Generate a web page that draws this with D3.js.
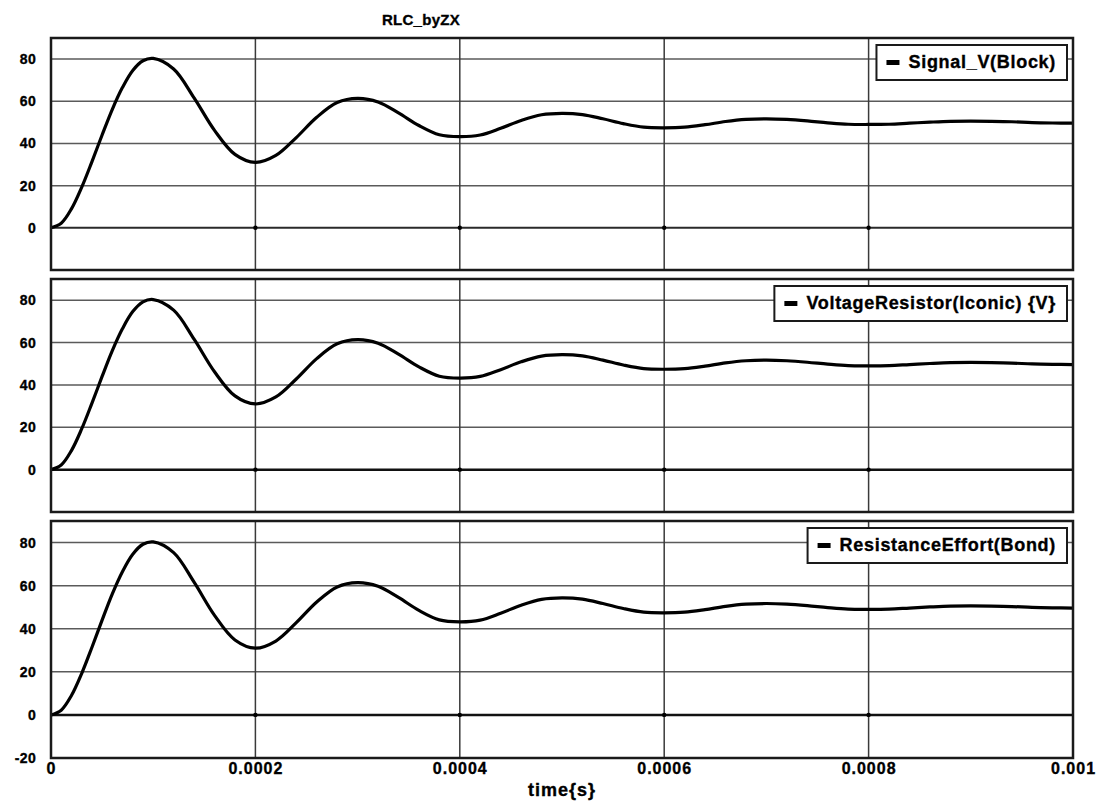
<!DOCTYPE html>
<html>
<head>
<meta charset="utf-8">
<script src="https://cdn.jsdelivr.net/npm/d3@7/dist/d3.min.js"></script>
<style>
  body { margin: 0; background: #fff; }
  svg { display: block; font-family: "Liberation Sans", Arial, sans-serif; }
</style>
</head>
<body>
<div id="chart"></div>
<script>
// ---- data ----
const chartTitle = 'RLC_byZX';
const xLabel = 'time{s}';

// sample times in microseconds (denser on the first rise)
const timeUs = [0, 10, 20, 30, 40, 50, 60, 70, 80, 90, 100, 120, 140, 160, 180, 200, 220,
  240, 260, 280, 300, 320, 340, 360, 380, 400, 420, 440, 460, 480, 500, 520, 540, 560, 580,
  600, 620, 640, 660, 680, 700, 720, 740, 760, 780, 800, 820, 840, 860, 880, 900, 920, 940,
  960, 980, 1000];

const signalV = [0, 2.2, 9.0, 19.2, 31.3, 44.0, 56.2, 66.6, 74.6, 79.2, 80.3, 75.3, 61.6,
  46.2, 34.8, 31.0, 34.3, 42.8, 52.4, 59.4, 61.4, 59.7, 54.5, 48.5, 44.1, 43.2, 44.0, 47.2,
  50.9, 53.6, 54.3, 53.7, 51.7, 49.4, 47.7, 47.4, 47.7, 48.9, 50.4, 51.4, 51.7, 51.4, 50.7,
  49.8, 49.1, 49.0, 49.1, 49.6, 50.1, 50.5, 50.6, 50.5, 50.3, 49.9, 49.7, 49.6];
const voltageResistor = [0, 2.2, 9.0, 19.2, 31.3, 44.0, 56.2, 66.6, 74.6, 79.2, 80.3, 75.3, 61.6,
  46.2, 34.8, 31.0, 34.3, 42.8, 52.4, 59.4, 61.4, 59.7, 54.5, 48.5, 44.1, 43.2, 44.0, 47.2,
  50.9, 53.6, 54.3, 53.7, 51.7, 49.4, 47.7, 47.4, 47.7, 48.9, 50.4, 51.4, 51.7, 51.4, 50.7,
  49.8, 49.1, 49.0, 49.1, 49.6, 50.1, 50.5, 50.6, 50.5, 50.3, 49.9, 49.7, 49.6];
const resistanceEffort = [0, 2.2, 9.0, 19.2, 31.3, 44.0, 56.2, 66.6, 74.6, 79.2, 80.3, 75.3, 61.6,
  46.2, 34.8, 31.0, 34.3, 42.8, 52.4, 59.4, 61.4, 59.7, 54.5, 48.5, 44.1, 43.2, 44.0, 47.2,
  50.9, 53.6, 54.3, 53.7, 51.7, 49.4, 47.7, 47.4, 47.7, 48.9, 50.4, 51.4, 51.7, 51.4, 50.7,
  49.8, 49.1, 49.0, 49.1, 49.6, 50.1, 50.5, 50.6, 50.5, 50.3, 49.9, 49.7, 49.6];

const seriesNames = ['Signal_V(Block)', 'VoltageResistor(Iconic) {V}', 'ResistanceEffort(Bond)'];

const xTicks = [0, 0.0002, 0.0004, 0.0006, 0.0008, 0.001];
const xTickLabels = ['0', '0.0002', '0.0004', '0.0006', '0.0008', '0.001'];
const yTicksUpper = [0, 20, 40, 60, 80];
const yTicksLower = [-20, 0, 20, 40, 60, 80];

// ---- layout ----
const W = 1098, H = 802;
const left = 51, right = 1073;
const panelBoxes = [
  { top: 38, bottom: 270 },
  { top: 279, bottom: 512 },
  { top: 521, bottom: 758 }
];
const FONT = '"Liberation Sans", Arial, sans-serif';

const svg = d3.select('#chart').append('svg')
  .attr('width', W)
  .attr('height', H);

svg.append('rect').attr('width', W).attr('height', H).attr('fill', '#fff');

const x = d3.scaleLinear().domain([0, 0.001]).range([left, right]);

const panels = [
  { values: signalV, name: seriesNames[0], yTicks: yTicksUpper, zeroColor: '#2a2a2a', zeroWidth: 2 },
  { values: voltageResistor, name: seriesNames[1], yTicks: yTicksUpper, zeroColor: '#111', zeroWidth: 2.5 },
  { values: resistanceEffort, name: seriesNames[2], yTicks: yTicksLower, zeroColor: '#111', zeroWidth: 2.5 }
];

// heavy, slightly smeared text like the scanned original
function boldText(sel, size, spacing) {
  sel.attr('fill', '#000')
    .attr('stroke', '#000')
    .attr('stroke-width', 0.35)
    .style('font-size', size + 'px')
    .style('font-weight', 'bold')
    .style('letter-spacing', (spacing || 0) + 'px')
    .style('font-family', FONT);
}

panels.forEach((p, i) => {
  const box = panelBoxes[i];
  const y = d3.scaleLinear().domain([-20, 90]).range([box.bottom, box.top]);
  const g = svg.append('g').attr('class', 'panel');

  // horizontal grid
  g.append('g').selectAll('line')
    .data([20, 40, 60, 80])
    .join('line')
    .attr('x1', left).attr('x2', right)
    .attr('y1', d => y(d)).attr('y2', d => y(d))
    .attr('stroke', '#5a5a5a')
    .attr('stroke-width', 1.5);

  // vertical grid
  g.append('g').selectAll('line')
    .data(xTicks.slice(1, -1))
    .join('line')
    .attr('x1', d => x(d)).attr('x2', d => x(d))
    .attr('y1', box.top).attr('y2', box.bottom)
    .attr('stroke', '#3a3a3a')
    .attr('stroke-width', 1.5);

  // zero line
  g.append('line')
    .attr('x1', left).attr('x2', right)
    .attr('y1', y(0)).attr('y2', y(0))
    .attr('stroke', p.zeroColor)
    .attr('stroke-width', p.zeroWidth);

  // little tick dots on the zero line
  g.append('g').selectAll('circle')
    .data(xTicks.slice(1, -1))
    .join('circle')
    .attr('cx', d => x(d)).attr('cy', y(0))
    .attr('r', 2.2)
    .attr('fill', '#000');

  // y axis labels
  const yAxis = d3.axisLeft(y).tickValues(p.yTicks)
    .tickFormat(d => String(d)).tickSize(0).tickPadding(0);
  const ya = g.append('g')
    .attr('transform', `translate(${left - 15},0)`)
    .call(yAxis);
  ya.select('.domain').remove();
  ya.selectAll('text').call(boldText, 14, 0.3);

  // curve
  const line = d3.line()
    .x((d, j) => x(timeUs[j] * 1e-6))
    .y(d => y(d))
    .curve(d3.curveCatmullRom.alpha(0.5));

  g.append('path')
    .datum(p.values)
    .attr('d', line)
    .attr('fill', 'none')
    .attr('stroke', '#000')
    .attr('stroke-width', 3.2)
    .attr('stroke-linejoin', 'round');

  // frame
  g.append('rect')
    .attr('x', left).attr('y', box.top)
    .attr('width', right - left).attr('height', box.bottom - box.top)
    .attr('fill', 'none')
    .attr('stroke', '#1a1a1a')
    .attr('stroke-width', 2.5);

  // legend
  const lg = g.append('g');
  const txt = lg.append('text')
    .text(p.name)
    .attr('y', box.top + 30)
    .call(boldText, 18, 0.7);
  const tw = txt.node().getComputedTextLength();
  const boxRight = 1067;
  const boxLeft = boxRight - 11 - tw - 32;
  txt.attr('x', boxLeft + 32);
  lg.insert('rect', 'text')
    .attr('x', boxLeft).attr('y', box.top + 7)
    .attr('width', boxRight - boxLeft).attr('height', 35)
    .attr('fill', '#fff')
    .attr('stroke', '#1a1a1a')
    .attr('stroke-width', 2);
  lg.append('rect')
    .attr('x', boxLeft + 10).attr('y', box.top + 22)
    .attr('width', 13).attr('height', 5)
    .attr('fill', '#000');
});

// x axis labels (bottom panel)
const xAxis = d3.axisBottom(x).tickValues(xTicks)
  .tickFormat((d, i) => xTickLabels[i]).tickSize(0).tickPadding(0);
const xa = svg.append('g')
  .attr('transform', `translate(0,${panelBoxes[2].bottom + 5})`)
  .call(xAxis);
xa.select('.domain').remove();
xa.selectAll('text').call(boldText, 16, 1);

svg.append('text')
  .attr('x', (left + right) / 2).attr('y', 796)
  .attr('text-anchor', 'middle')
  .call(boldText, 18, 1)
  .text(xLabel);

svg.append('text')
  .attr('x', 421).attr('y', 25)
  .attr('text-anchor', 'middle')
  .call(boldText, 15, 0.3)
  .text(chartTitle);
</script>
</body>
</html>
